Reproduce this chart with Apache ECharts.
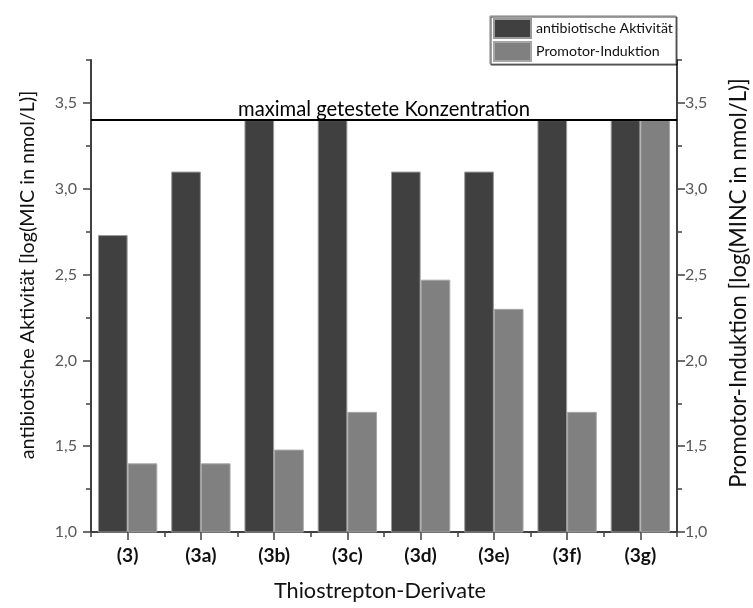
<!DOCTYPE html>
<html>
<head>
<meta charset="utf-8">
<script src="https://cdn.jsdelivr.net/npm/echarts@6/dist/echarts.min.js"></script>
<style>html,body{margin:0;padding:0;background:#fff;}#c{width:753px;height:608px;}</style>
</head>
<body>
<div id="c"></div>
<script>
var categories = ['(3)', '(3a)', '(3b)', '(3c)', '(3d)', '(3e)', '(3f)', '(3g)'];
var antibioticValues = [2.73, 3.10, 3.40, 3.40, 3.10, 3.10, 3.40, 3.40];
var promotorValues = [1.40, 1.40, 1.48, 1.70, 2.47, 2.30, 1.70, 3.40];
var maxConcentration = 3.4;
var tickLabels = [1.0, 1.5, 2.0, 2.5, 3.0, 3.5];
var seriesNames = ['antibiotische Aktivität', 'Promotor-Induktion'];
var leftTitle = 'antibiotische Aktivität [log(MIC in nmol/L)]';
var rightTitle = 'Promotor-Induktion [log(MINC in nmol/L)]';
var xTitle = 'Thiostrepton-Derivate';
var lineLabel = 'maximal getestete Konzentration';

var FONT = 'Lato, "Noto Sans", sans-serif';
var ctx = document.createElement('canvas').getContext('2d');
function fitSize(text, target, weight) {
  ctx.font = (weight || 'normal') + ' 100px ' + FONT;
  return 100 * target / ctx.measureText(text).width;
}
var lineFs = fitSize(lineLabel, 292);
var leftFs = fitSize(leftTitle, 368);
var rightFs = fitSize(rightTitle, 410);
var xFs = fitSize(xTitle, 212);
var legendFs = fitSize(seriesNames[0], 137);
var catFs = fitSize('(3b)', 32, 'bold');

function fmt(v) {
  for (var i = 0; i < tickLabels.length; i++) {
    if (Math.abs(tickLabels[i] - v) < 1e-6) return v.toFixed(1).replace('.', ',');
  }
  return '';
}
function yAxisCfg(pos, margin) {
  return {
    type: 'value', position: pos, min: 1, max: 3.75, interval: 0.25,
    axisLine: {show: true, lineStyle: {color: '#404040', width: 2}},
    axisTick: {show: true, length: 5, lineStyle: {color: '#404040', width: 1.5}},
    axisLabel: {formatter: fmt, color: '#595959', fontSize: 16, fontFamily: FONT, margin: margin},
    splitLine: {show: false}
  };
}
function majorTickAxis(pos) {
  return {
    type: 'value', position: pos, min: 1, max: 3.75, interval: 0.25,
    axisLine: {show: false},
    axisTick: {show: true, length: 8, customValues: tickLabels, lineStyle: {color: '#404040', width: 1.5}},
    axisLabel: {show: false},
    splitLine: {show: false}
  };
}
var chart = echarts.init(document.getElementById('c'));
chart.setOption({
  animation: false,
  backgroundColor: '#fff',
  grid: {left: 91, right: 76, top: 60, bottom: 76},
  legend: {
    orient: 'vertical', left: 490, top: 16,
    itemWidth: 37, itemHeight: 19, itemGap: 2,
    backgroundColor: '#fff',
    borderColor: '#7f7f7f', borderWidth: 1, padding: [2, 3, 2, 3],
    shadowColor: 'rgba(0,0,0,0.75)', shadowBlur: 0, shadowOffsetX: 1, shadowOffsetY: 1,
    icon: 'rect',
    textStyle: {fontSize: legendFs, color: '#111', fontFamily: FONT},
    data: seriesNames
  },
  xAxis: [{
    type: 'category', data: categories,
    axisLine: {show: true, lineStyle: {color: '#404040', width: 2}},
    axisTick: {show: true, alignWithLabel: false, interval: 0, length: 5, lineStyle: {color: '#404040', width: 1.5}},
    axisLabel: {color: '#111', fontSize: catFs, fontWeight: 'bold', fontFamily: FONT, margin: 14},
    splitLine: {show: false}
  }, {
    type: 'category', data: categories, position: 'bottom',
    axisLine: {show: false},
    axisTick: {show: true, alignWithLabel: true, interval: 0, length: 8, lineStyle: {color: '#404040', width: 1.5}},
    axisLabel: {show: false}
  }],
  yAxis: [yAxisCfg('left', 14), yAxisCfg('right', 8), majorTickAxis('left'), majorTickAxis('right')],
  series: [{
    name: seriesNames[0], type: 'bar', data: antibioticValues,
    xAxisIndex: 0, yAxisIndex: 0,
    barGap: '0%', barCategoryGap: '19%',
    itemStyle: {color: '#404040', borderColor: '#9a9a9a', borderWidth: 1},
    markLine: {
      silent: true, symbol: ['none', 'none'],
      lineStyle: {color: '#000', width: 2, type: 'solid'},
      label: {show: true, position: 'insideMiddleTop', formatter: lineLabel, color: '#000', fontSize: lineFs, fontFamily: FONT, distance: 1},
      data: [{yAxis: maxConcentration}]
    }
  }, {
    name: seriesNames[1], type: 'bar', data: promotorValues,
    xAxisIndex: 0, yAxisIndex: 1,
    barGap: '0%', barCategoryGap: '19%',
    itemStyle: {color: '#808080', borderColor: '#a6a6a6', borderWidth: 1}
  }],
  graphic: [
    {type: 'text', x: 28, y: 275, rotation: Math.PI / 2,
     style: {text: leftTitle, fill: '#111', font: leftFs.toFixed(1) + 'px ' + FONT, textAlign: 'center', textVerticalAlign: 'middle'}},
    {type: 'text', x: 739, y: 283, rotation: Math.PI / 2,
     style: {text: rightTitle, fill: '#111', font: rightFs.toFixed(1) + 'px ' + FONT, textAlign: 'center', textVerticalAlign: 'middle'}},
    {type: 'text', x: 380, y: 591,
     style: {text: xTitle, fill: '#111', font: xFs.toFixed(1) + 'px ' + FONT, textAlign: 'center', textVerticalAlign: 'middle'}}
  ]
});
</script>
</body>
</html>
